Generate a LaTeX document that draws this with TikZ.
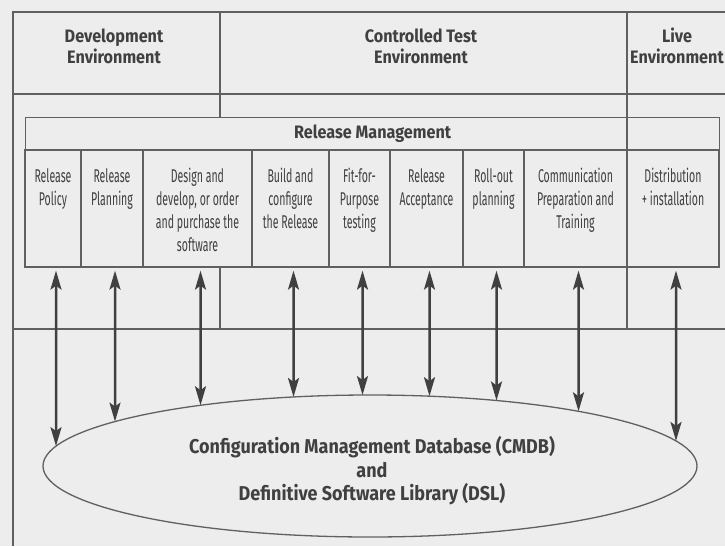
\documentclass[tikz,border=0pt]{standalone}
\usepackage{fontspec}
\setmainfont{Fira Sans}
\newfontfamily\headfont{Fira Sans}[FakeStretch=0.9]
\newfontfamily\cellfont{Fira Sans}[FakeStretch=0.57]
\usetikzlibrary{positioning,shapes.geometric,intersections,arrows.meta}

\definecolor{inkgray}{HTML}{404040}
\definecolor{rulegray}{HTML}{606060}
\definecolor{papergray}{HTML}{EDEDED}

\tikzset{
  rule/.style={draw=rulegray, line width=1.3pt},
  envtext/.style={font=\headfont\bfseries\fontsize{18}{21}\selectfont, text=inkgray, align=center, inner sep=0pt},
  cellbox/.style={rule, fill=papergray, minimum height=117pt, inner sep=0pt},
  celltext/.style={font=\cellfont\fontsize{18.5}{22.7}\selectfont, text=inkgray, align=center, inner sep=0pt},
  dblarrow/.style={draw=inkgray, line width=2.5pt,
    arrows={Stealth[length=19pt,width=11pt,inset=4pt]-Stealth[length=19pt,width=11pt,inset=4pt]}},
}

\begin{document}
\begin{tikzpicture}[x=1pt,y=-1pt]
  \useasboundingbox[fill=papergray] (0,0) rectangle (725,546);

  % environment frame
  \draw[rule] (13,546) -- (13,12) -- (725,12);
  \draw[rule] (13,94) -- (725,94);
  \draw[rule] (13,329) -- (725,329);
  \draw[rule] (220,12) -- (220,329);
  \node[envtext] (devenv) at (114,46) {Development\\Environment};
  \node[envtext] (testenv) at (421,46) {Controlled Test\\Environment};
  \node[envtext] (liveenv) at (677,46) {Live\\Environment};

  % release management
  \node[rule, fill=papergray, anchor=north west, minimum width=694pt, minimum height=33pt,
        envtext] (relmgmt) at (25,117) {Release Management};
  \foreach \l/\r/\txt [count=\i] in {
      25/81/{Release\\Policy},
      81/143/{Release\\Planning},
      143/252/{Design and\\develop, or order\\and purchase the\\software},
      252/329/{Build and\\configure\\the Release},
      329/390/{Fit-for-\\Purpose\\testing},
      390/463/{Release\\Acceptance},
      463/524/{Roll-out\\planning},
      524/627/{Communication\\Preparation and\\Training},
      627/719/{Distribution\\+ installation}}{
    \node[cellbox, minimum width=\r-\l] (c\i) at ({(\l+\r)/2},208.5) {};
    \node[celltext, below=19pt of c\i.north] (t\i) {\txt};
  }
  \draw[rule] (627,12) -- (627,329);

  % CMDB and DSL
  \node[rule, ellipse, minimum width=654pt, minimum height=142pt, inner sep=0pt,
        name path=dbpath] (cmdb) at (370,466) {};
  \node[envtext, font=\headfont\bfseries\fontsize{20}{23.5}\selectfont] (cmdbtext) at (372,471)
    {Configuration Management Database (CMDB)\\and\\Definitive Software Library (DSL)};

  \foreach \i in {1,...,9}{
    \path[name path=vline] ([xshift=3pt]c\i.south) -- ++(0,300);
    \path[name intersections={of=vline and dbpath, by=hit}];
    \draw[dblarrow] ([xshift=3pt,yshift=-3pt]c\i.south) -- (hit);
  }
\end{tikzpicture}
\end{document}
